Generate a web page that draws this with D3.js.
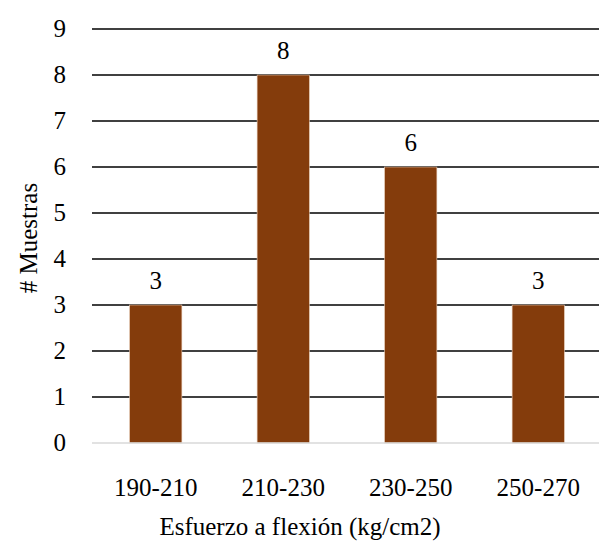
<!DOCTYPE html>
<html>
<head>
<meta charset="utf-8">
<script src="https://cdn.jsdelivr.net/npm/d3@7"></script>
</head>
<body style="margin:0">
<svg id="t" width="599" height="545"></svg>
<script>
// chart data
const categories = ['190-210', '210-230', '230-250', '250-270'];
const counts = [3, 8, 6, 3];
const yTicks = [0, 1, 2, 3, 4, 5, 6, 7, 8, 9];

const width = 599, height = 545;
const margin = { top: 29, right: -3, bottom: 102, left: 92 };
const FONT = "'Times New Roman'";

const svg = d3.select('#t');

const x = d3.scaleBand()
  .domain(categories)
  .range([margin.left, width - margin.right])
  .paddingInner(0.59)
  .paddingOuter(0.295);

const y = d3.scaleLinear()
  .domain([0, 9])
  .range([height - margin.bottom, margin.top]);

// gridlines
svg.append('g')
  .selectAll('line')
  .data(yTicks.filter(d => d > 0))
  .enter()
  .append('line')
  .attr('x1', margin.left)
  .attr('x2', width)
  .attr('y1', d => y(d))
  .attr('y2', d => y(d))
  .attr('stroke', '#000')
  .attr('stroke-width', 1.5);

// bars
svg.append('g')
  .selectAll('rect')
  .data(counts)
  .enter()
  .append('rect')
  .attr('x', (d, i) => x(categories[i]))
  .attr('y', d => y(d))
  .attr('width', x.bandwidth())
  .attr('height', d => y(0) - y(d))
  .attr('fill', '#843c0c')
  .attr('stroke', '#e8cdb8')
  .attr('stroke-width', 0.6);

// baseline
svg.append('line')
  .attr('x1', margin.left)
  .attr('x2', width)
  .attr('y1', y(0))
  .attr('y2', y(0))
  .attr('stroke', '#d9d9d9')
  .attr('stroke-width', 1.5);

// y tick labels
svg.append('g')
  .selectAll('text')
  .data(yTicks)
  .enter()
  .append('text')
  .attr('x', margin.left - 26)
  .attr('y', d => y(d) + 8)
  .attr('text-anchor', 'end')
  .style('font-family', FONT)
  .style('font-size', '25px')
  .text(d => d);

// x tick labels
svg.append('g')
  .selectAll('text')
  .data(categories)
  .enter()
  .append('text')
  .attr('x', d => x(d) + x.bandwidth() / 2)
  .attr('y', y(0) + 53)
  .attr('text-anchor', 'middle')
  .style('font-family', FONT)
  .style('font-size', '25px')
  .text(d => d);

// value labels
svg.append('g')
  .selectAll('text')
  .data(counts)
  .enter()
  .append('text')
  .attr('x', (d, i) => x(categories[i]) + x.bandwidth() / 2)
  .attr('y', d => y(d) - 16)
  .attr('text-anchor', 'middle')
  .style('font-family', FONT)
  .style('font-size', '25px')
  .text(d => d);

// axis titles
svg.append('text')
  .attr('x', 300)
  .attr('y', 535)
  .attr('text-anchor', 'middle')
  .style('font-family', FONT)
  .style('font-size', '25px')
  .text('Esfuerzo a flexión (kg/cm2)');

svg.append('text')
  .attr('transform', 'translate(37,238) rotate(-90)')
  .attr('text-anchor', 'middle')
  .style('font-family', FONT)
  .style('font-size', '25px')
  .text('# Muestras');
</script>
</body>
</html>
